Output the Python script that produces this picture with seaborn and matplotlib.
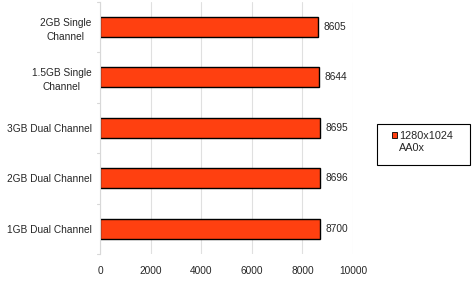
import matplotlib
matplotlib.use("Agg")
import matplotlib.pyplot as plt
import matplotlib.patches as mpatches
import seaborn as sns
import pandas as pd

categories = ["2GB Single\nChannel", "1.5GB Single\nChannel", "3GB Dual Channel",
              "2GB Dual Channel", "1GB Dual Channel"]
values = [8605, 8644, 8695, 8696, 8700]
series_name = "1280x1024\nAA0x"
xticks = [0, 2000, 4000, 6000, 8000, 10000]

sns.set_style("white")
plt.rcParams['font.family'] = ['Liberation Sans', 'DejaVu Sans']
FS = 7.3
W, H = 472, 281

df = pd.DataFrame({"cat": categories, "val": values, "series": series_name})

fig = plt.figure(figsize=(W/100, H/100), dpi=100)
ax = fig.add_axes([100/W, 1-254/H, 253/W, 252.5/H])
sns.barplot(data=df, y="cat", x="val", hue="series", orient="h", ax=ax,
            palette=["#FF4010"], saturation=1, edgecolor="black", linewidth=1,
            width=0.39, legend=True)
ax.set_xlim(0, 10000)
ax.set_ylim(len(categories) - 0.5, -0.5)
ax.set_xticks(xticks)
ax.set_xticklabels([str(t) for t in xticks], fontsize=FS)
ax.set_ylabel("")
ax.set_xlabel("")
ax.tick_params(axis='y', labelsize=FS, length=0, pad=6)
ax.tick_params(axis='x', length=0, pad=9)
for lbl in ax.get_yticklabels():
    lbl.set_multialignment("center")
    lbl.set_linespacing(1.5)
ax.grid(axis='x', color='#e0e0e0', linewidth=0.8)
ax.set_axisbelow(True)
for s in ["top", "right", "bottom"]:
    ax.spines[s].set_visible(False)
ax.spines["left"].set_color("#d8d8d8")
ax.spines["left"].set_linewidth(0.8)
for i in range(len(categories) + 1):
    ax.plot([-120, 0], [i - 0.5, i - 0.5], color="#d8d8d8", lw=0.8, clip_on=False)

for c in ax.containers:
    ax.bar_label(c, labels=[str(v) for v in values], padding=4, fontsize=FS)

# legend box drawn as a frame, legend contents placed inside
box = mpatches.Rectangle((377/W, 1-165/H), 93/W, 41/H, transform=fig.transFigure,
                         facecolor="white", edgecolor="black", linewidth=0.8,
                         zorder=-1)
fig.add_artist(box)
leg = ax.legend(loc="upper left", bbox_to_anchor=(392/W, 1-131/H),
                bbox_transform=fig.transFigure,
                frameon=False, fontsize=7.8, handlelength=0.48,
                handleheight=0.48, handletextpad=0.2, borderpad=0,
                borderaxespad=0)
leg.get_texts()[0].set_linespacing(1.3)
h = leg.legend_handles[0]
h.set_y(h.get_y() + 5)
h.set_linewidth(0.6)
fig.savefig("out.png", dpi=100)
